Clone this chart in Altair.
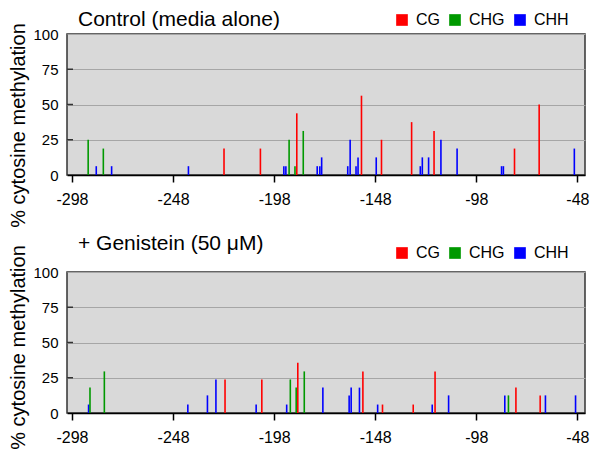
import altair as alt
import pandas as pd

FONT = "Liberation Sans"
x_ticks = [-298, -248, -198, -148, -98, -48]
y_ticks = [0, 25, 50, 75, 100]
contexts = ["CG", "CHG", "CHH"]
ctx_colors = ["#ff0000", "#009900", "#0000ff"]
Y_TITLE = "% cytosine methylation"

# Control (media alone)
ctrl_pos = [-290, -286, -282.5, -278.4, -240.4, -222.8, -204.8, -193.2, -192.2, -190.6,
            -187.7, -186.8, -183.6, -176.7, -175.4, -174.5, -161.6, -160.4, -157.5, -156.5,
            -154.8, -147.5, -144.9, -130.0, -125.7, -124.7, -121.6, -118.9, -115.5, -107.5,
            -85.5, -84.6, -79.1, -66.9, -49.5]
ctrl_val = [25, 6.25, 18.75, 6.25, 6.25, 18.75, 18.75, 6.25, 6.25, 25,
            6.25, 43.75, 31.25, 6.25, 6.25, 12.5, 6.25, 25, 6.25, 12.5,
            56.25, 12.5, 25, 37.5, 6.25, 12.5, 12.5, 31.25, 25, 18.75,
            6.25, 6.25, 18.75, 50, 18.75]
ctrl_ctx = ["CHG", "CHH", "CHG", "CHH", "CHH", "CG", "CG", "CHH", "CHH", "CHG",
            "CHG", "CG", "CHG", "CHH", "CHH", "CHH", "CHH", "CHH", "CHH", "CHH",
            "CG", "CHH", "CG", "CG", "CHH", "CHH", "CHH", "CG", "CHH", "CHH",
            "CHH", "CHH", "CG", "CG", "CHH"]

# + Genistein (50 uM)
gen_pos = [-289.8, -289.1, -282, -240.7, -231, -226.8, -222.3, -206.9, -204.1, -191.8,
           -190, -187.1, -186.3, -183.1, -173.9, -160.9, -159.9, -155.8, -154.1, -146.8,
           -144.4, -129.2, -119.8, -118.4, -111.7, -83.9, -82.1, -78.4, -66.4, -63.8, -48.9]
gen_val = [6, 18, 29.5, 6, 12.5, 23.8, 23.8, 6, 23.8, 6,
           23.8, 18, 35.7, 29.5, 18, 12.5, 18, 18, 29.5, 6,
           6, 6, 6, 29.5, 12.5, 12.5, 12.5, 18, 12.5, 12.5, 12.5]
gen_ctx = ["CHH", "CHG", "CHG", "CHH", "CHH", "CHH", "CG", "CHH", "CG", "CHH",
           "CHG", "CHG", "CG", "CHG", "CHH", "CHH", "CHH", "CHH", "CG", "CHH",
           "CG", "CG", "CHH", "CG", "CHH", "CHH", "CHG", "CG", "CG", "CHH", "CHH"]


def panel(pos, val, ctx, title, legend_y, title_offset, ytitle_y):
    df = pd.DataFrame({"pos": pos, "val": val, "ctx": ctx})
    y_axis = alt.Axis(values=y_ticks, title=Y_TITLE, titleFontSize=20,
                      titleFont=FONT, titleFontWeight="normal", titleColor="#000000",
                      titlePadding=4, titleY=ytitle_y, labelFontSize=15, labelFont=FONT,
                      labelColor="#000000", labelPadding=9, ticks=False, domain=False,
                      gridColor="#a6a6a6", gridWidth=1)
    y_scale = alt.Scale(domain=[0, 100], nice=False)
    bars = alt.Chart(df).mark_bar(size=1.6).encode(
        x=alt.X("pos:Q",
                scale=alt.Scale(domain=[-298, -46.7], nice=False, zero=False),
                axis=alt.Axis(values=x_ticks, title=None, grid=False, domainColor="#000000",
                              domainWidth=1.5, tickColor="#000000", tickWidth=1.5, tickSize=7,
                              labelFontSize=16, labelPadding=9, labelColor="#000000",
                              labelFont=FONT, labelExpr="'' + datum.value")),
        y=alt.Y("val:Q", scale=y_scale, axis=y_axis),
        color=alt.Color("ctx:N", scale=alt.Scale(domain=contexts, range=ctx_colors),
                        legend=alt.Legend(title=None, orient="none", legendX=327,
                                          legendY=legend_y, direction="horizontal",
                                          symbolType="square", symbolSize=136,
                                          symbolStrokeWidth=0, labelFontSize=16,
                                          labelFont=FONT, labelColor="#000000",
                                          columnPadding=7, labelOffset=6, padding=0)),
    )
    inner_ticks = alt.Chart(pd.DataFrame({"v": y_ticks[1:-1]})).mark_rule(
        color="#333333", strokeWidth=1.5
    ).encode(y=alt.Y("v:Q", scale=y_scale, axis=y_axis), x=alt.value(0), x2=alt.value(6))
    return alt.layer(bars, inner_ticks).properties(
        width=518, height=141,
        title=alt.Title(title, anchor="start", frame="group", dx=11, fontSize=21,
                        font=FONT, fontWeight="normal", color="#000000",
                        offset=title_offset),
    )


top = panel(ctrl_pos, ctrl_val, ctrl_ctx, "Control (media alone)", -22, -18, 91)
bottom = panel(gen_pos, gen_val, gen_ctx, "+ Genistein (50 \u03bcM)", -27, -9, 75)

chart = alt.vconcat(top, bottom, spacing=97, bounds="flush").resolve_scale(
    color="independent"
).configure(
    padding={"left": 0, "top": 0, "right": 0, "bottom": 0}, font=FONT,
).configure_view(fill="#d9d9d9", stroke="#333333", strokeWidth=1.5)

chart.save("out.html", embed_options={"renderer": "svg", "actions": False})
